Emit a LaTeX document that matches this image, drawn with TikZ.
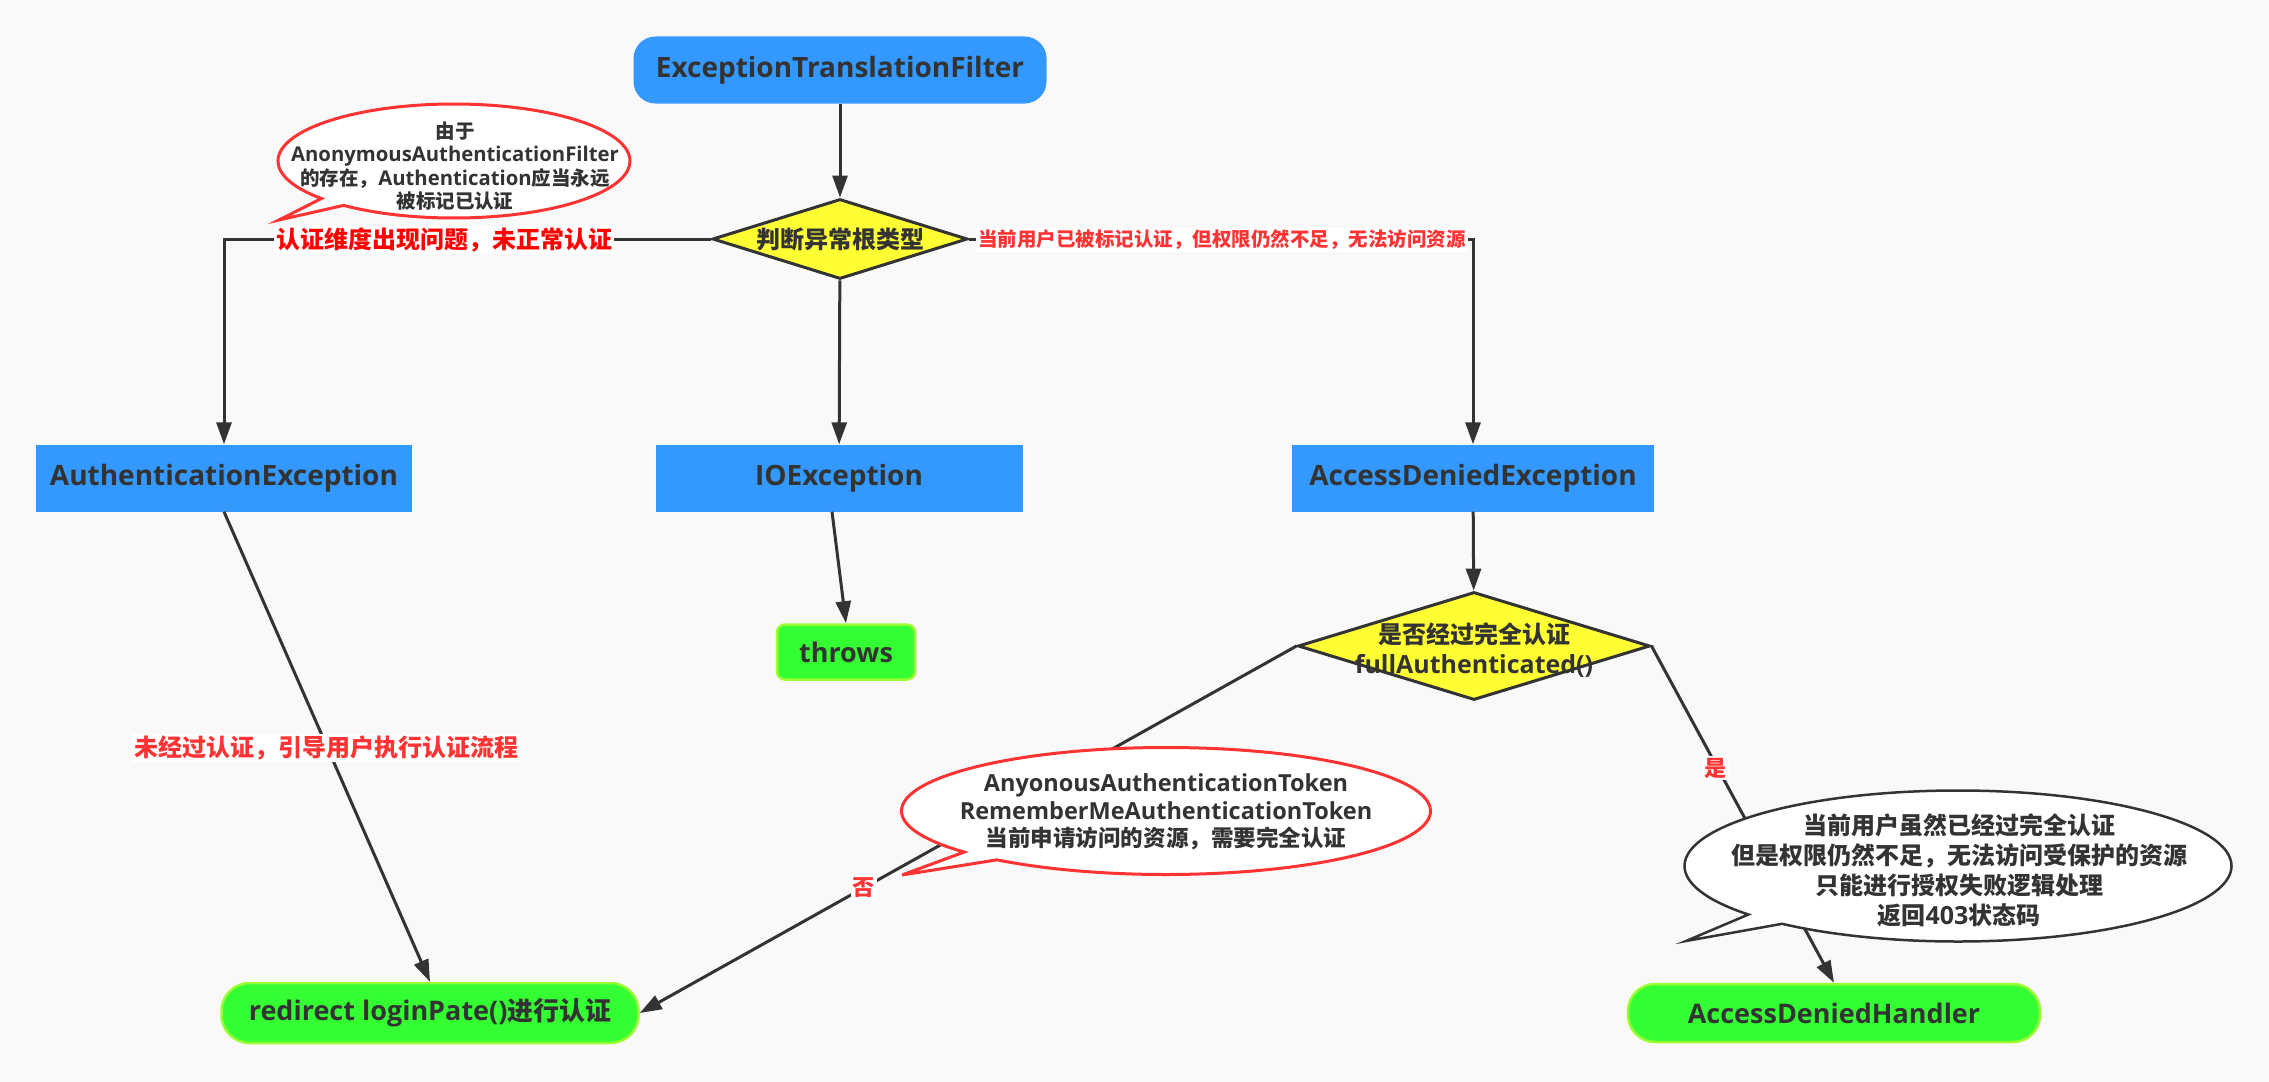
\documentclass[tikz,border=0pt]{standalone}
\usepackage{fontspec}
\setmainfont{Open Sans}
\newfontfamily\cjkf{Noto Sans CJK SC}[Scale=0.96]
\newcommand\zh[1]{{\cjkf #1}}
\newcommand\fsz[2]{\fontsize{#1}{#2}\selectfont}
\usetikzlibrary{shapes.geometric,shapes.callouts,arrows.meta}
\definecolor{bg}{HTML}{F9F9F9}
\definecolor{ink}{HTML}{333333}
\definecolor{boxblue}{HTML}{3399FF}
\definecolor{greenfill}{HTML}{33FF33}
\definecolor{greenedge}{HTML}{99FF33}
\definecolor{yellowfill}{HTML}{FFFF33}
\definecolor{bubblered}{HTML}{FF3333}
\definecolor{labred}{HTML}{FF0000}

\begin{document}
\begin{tikzpicture}[x=1pt,y=-1pt,
  every node/.style={text=ink},
  conn/.style={draw=ink, line width=3pt},
  arr/.style={conn, -{Triangle[length=22pt,width=15pt]}},
  bluenode/.style={fill=boxblue, minimum height=67pt, inner sep=0pt, font=\bfseries\fsz{28}{34}},
  topnode/.style={bluenode, rounded corners=22pt},
  greennode/.style={fill=greenfill, draw=greenedge, line width=2.5pt, inner sep=0pt, font=\bfseries\fsz{27}{32}},
  decision/.style={diamond, draw=ink, fill=yellowfill, line width=3pt, inner sep=0pt},
  dtext/.style={align=center, font=\bfseries\fsz{25}{30}},
  warn/.style={fill=white, inner sep=2pt, text=bubblered, font=\cjkf\bfseries\fsz{25}{30}},
  bubble/.style={ellipse callout, fill=white, line width=3pt, inner sep=0pt, callout pointer arc=10},
  btext/.style={align=center}
]
\path[use as bounding box, fill=bg] (0,0) rectangle (2269,1081);

% process boxes
\node[topnode, minimum width=413pt] (etf) at (840,70) {ExceptionTranslationFilter};
\node[decision, minimum width=255pt, minimum height=80pt] (d1) at (840,239) {};
\node[dtext, font=\cjkf\bfseries\fsz{25}{30}] (d1t) at (d1.center) {判断异常根类型};
\node[bluenode, minimum width=376pt] (ae) at (224,478) {AuthenticationException};
\node[bluenode, minimum width=367pt] (io) at (839,478) {IOException};
\node[bluenode, minimum width=362pt] (ade) at (1473,478) {AccessDeniedException};
\node[greennode, rounded corners=8pt, minimum width=138pt, minimum height=55pt] (thr) at (846,652) {throws};
\node[decision, minimum width=352pt, minimum height=108pt] (d2) at (1474,646) {};
\node[dtext] (d2t) at (1474,650) {\zh{是否经过完全认证}\\fullAuthenticated()};
\node[greennode, rounded corners=28pt, minimum width=417pt, minimum height=60pt] (rd) at (430,1013) {redirect loginPate()\zh{进行认证}};
\node[greennode, rounded corners=27pt, minimum width=412pt, minimum height=58pt] (adh) at (1834,1013) {AccessDeniedHandler};

% connectors
\draw[arr] (etf) -- (d1);
\draw[arr] (d1.west) -| (ae.north);
\draw[arr] (d1.east) -| (ade.north);
\draw[arr] (d1) -- (io);
\draw[arr] ([xshift=-7pt]io.south) -- (thr.north);
\draw[arr] (ade) -- (d2);
\draw[arr] (ae.south) -- (rd.north);
\draw[arr] (d2.west) -- (rd.east);
\draw[arr] (d2.east) -- (adh.north);

% edge labels
\node[warn, text=labred] (lab1) at (444,240) {认证维度出现问题，未正常认证};
\node[warn, font=\cjkf\bfseries\fsz{20.3}{24}] (lab2) at (1222,240) {当前用户已被标记认证，但权限仍然不足，无法访问资源};
\node[warn] (lab3) at (326,748) {未经过认证，引导用户执行认证流程};
\node[warn, font=\cjkf\bfseries\fsz{23}{28}] (yes) at (1716,768) {是};
\node[warn, font=\cjkf\bfseries\fsz{23}{28}] (no) at (864,888) {否};

% speech bubbles
\node[bubble, draw=bubblered, minimum width=352pt, minimum height=114pt, callout absolute pointer={(279,220)}] (b1) at (454,161) {};
\node[btext, font=\bfseries\fsz{20.3}{23.3}] (b1t) at (455,166) {\zh{由于}\\AnonymousAuthenticationFilter\\\zh{的存在，}Authentication\zh{应当永远}\\\zh{被标记已认证}};

\node[bubble, draw=bubblered, minimum width=529pt, minimum height=127pt, callout absolute pointer={(902,875)}] (b2) at (1166,811) {};
\node[btext, font=\bfseries\fsz{23.5}{27.5}] (b2t) at (1166,812) {AnyonousAuthenticationToken\\RememberMeAuthenticationToken\\\zh{当前申请访问的资源，需要完全认证}};

\node[bubble, draw=ink, line width=2.5pt, minimum width=547pt, minimum height=151pt, callout absolute pointer={(1686,941)}] (b3) at (1958,866) {};
\node[btext, font=\bfseries\fsz{25}{30}] (b3t) at (1959,870) {\zh{当前用户虽然已经过完全认证}\\\zh{但是权限仍然不足，无法访问受保护的资源}\\\zh{只能进行授权失败逻辑处理}\\\zh{返回}403\zh{状态码}};
\end{tikzpicture}
\end{document}
